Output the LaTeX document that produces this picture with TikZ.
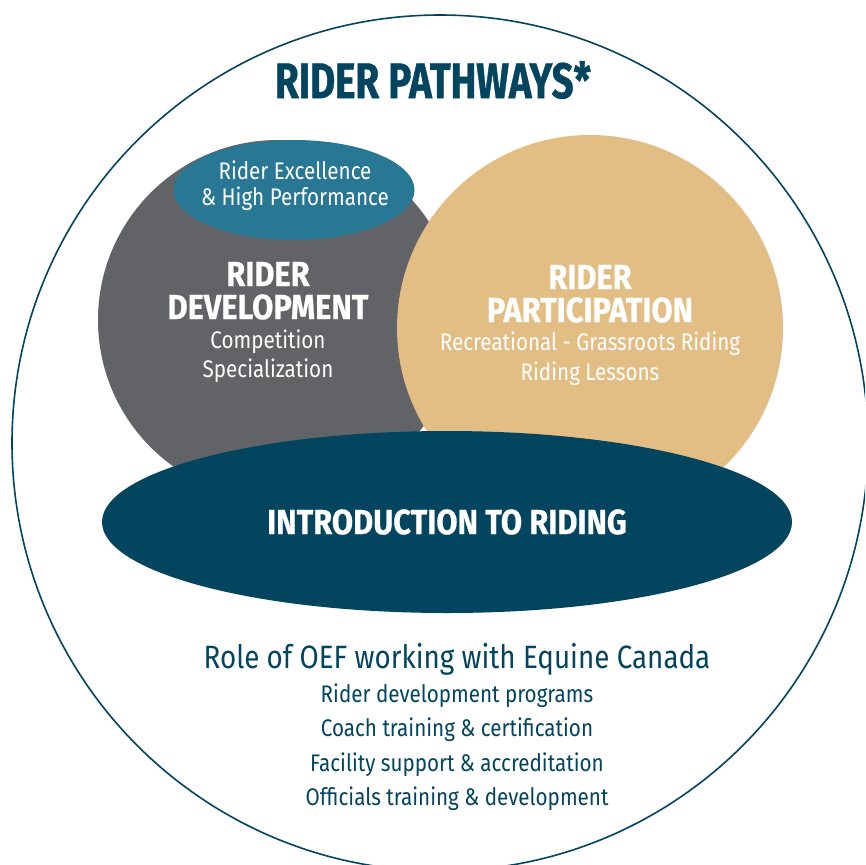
\documentclass[tikz,border=0pt]{standalone}
\usepackage{fontspec}
\setmainfont{Fira Sans}[FakeStretch=0.86]
\newfontfamily\headfont{Fira Sans}[FakeStretch=0.88, FakeBold=0.6]
\newfontfamily\titlefont{Fira Sans}[FakeStretch=0.77, FakeBold=0.8]
\usetikzlibrary{shapes.geometric}
\definecolor{navy}{HTML}{03445F}
\definecolor{slate}{HTML}{626366}
\definecolor{tan}{HTML}{E3BE84}
\definecolor{teal}{HTML}{277795}
\tikzset{
  blob/.style={inner sep=0pt, outer sep=0pt, draw=none},
  headtxt/.style={font=\headfont\bfseries\fontsize{35}{35}\selectfont, text=white, align=center, inner sep=0pt},
  subtxt/.style={font=\fontsize{24}{24}\selectfont, text=white, inner sep=0pt},
  roletxt/.style={font=\fontsize{24}{24}\selectfont, text=navy, inner sep=0pt},
}
\begin{document}
\begin{tikzpicture}[x=1pt,y=-1pt]
\useasboundingbox (0,0) rectangle (865,865);
\clip (0,0) rectangle (865,865);
\fill[white] (0,0) rectangle (865,865);
\node[blob, circle, draw=navy, line width=1.6pt, minimum size=856pt] (outer) at (440,443) {};
\node[font=\titlefont\bfseries\fontsize{50}{50}\selectfont, text=navy, inner sep=0pt] (title) at (433,80) {RIDER PATHWAYS*};
\node[blob, circle, fill=slate, minimum size=360pt] (dev) at (278,320) {};
\node[blob, ellipse, fill=teal, minimum width=241pt, minimum height=100pt] (hp) at (294,190) {};
\node[blob, circle, fill=tan, minimum size=386pt] (part) at (590,328) {};
\node[blob, ellipse, fill=navy, minimum width=690pt, minimum height=182pt] (intro) at (447,522) {};
\node[subtxt] (hp1) at (295,170) {Rider Excellence};
\node[subtxt] (hp2) at (295,199) {\& High Performance};
\node[headtxt] (dev1) at (268,274) {RIDER};
\node[headtxt] (dev2) at (268,307) {DEVELOPMENT};
\node[subtxt] (dev3) at (268,342) {Competition};
\node[subtxt] (dev4) at (268,371) {Specialization};
\node[headtxt] (part1) at (590,277) {RIDER};
\node[headtxt] (part2) at (590,310) {PARTICIPATION};
\node[subtxt] (part3) at (590,344) {Recreational - Grassroots Riding};
\node[subtxt] (part4) at (590,374) {Riding Lessons};
\node[headtxt, font=\headfont\bfseries\fontsize{35}{35}\selectfont] (introtxt) at (447,522) {INTRODUCTION TO RIDING};
\node[roletxt, font=\fontsize{32.3}{32.3}\selectfont] (role) at (457,659) {Role of OEF working with Equine Canada};
\node[roletxt] (r1) at (457,696) {Rider development programs};
\node[roletxt] (r2) at (457,730) {Coach training \& certification};
\node[roletxt] (r3) at (457,765) {Facility support \& accreditation};
\node[roletxt] (r4) at (457,799) {Officials training \& development};
\end{tikzpicture}
\end{document}
